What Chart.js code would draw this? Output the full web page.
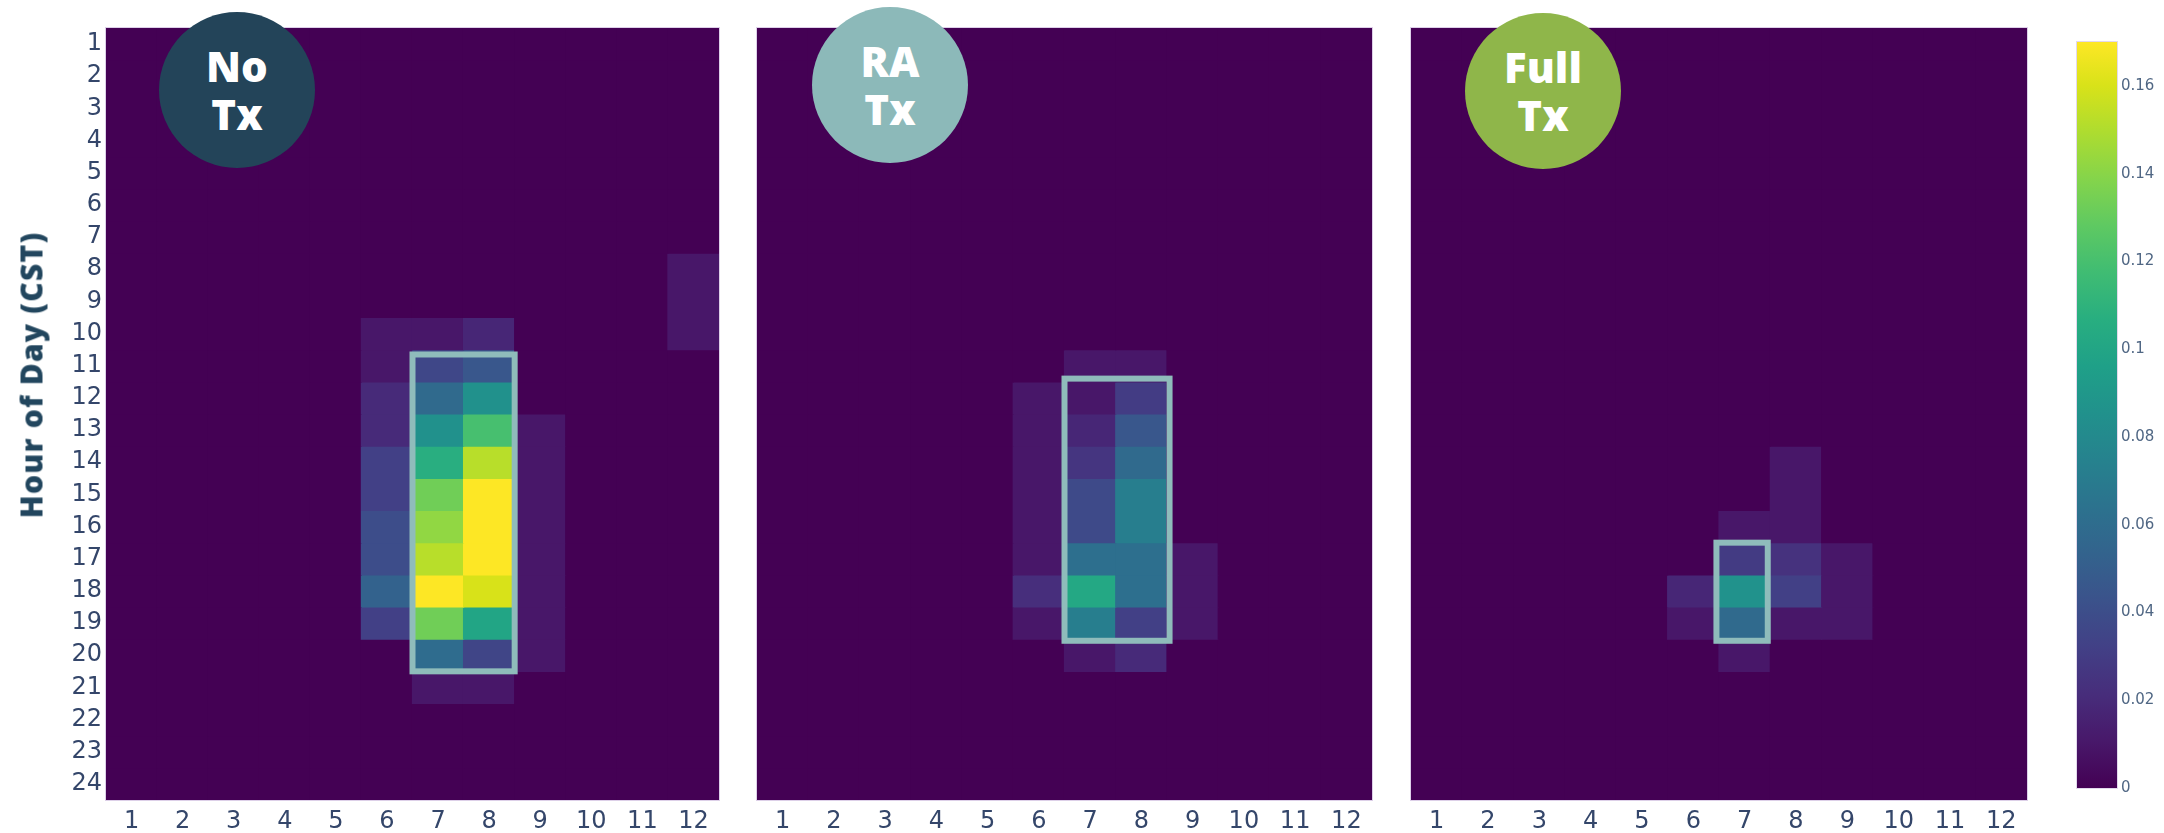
<!DOCTYPE html>
<html><head><meta charset="utf-8">
<script src="https://cdn.jsdelivr.net/npm/chart.js@4.4.1/dist/chart.umd.min.js"></script>
<style>
html,body{margin:0;padding:0;background:#fff;width:2164px;height:833px;overflow:hidden;position:relative}
canvas{position:absolute;top:0}
.badge{position:absolute;width:156px;height:156px;border-radius:50%;display:flex;flex-direction:column;align-items:center;justify-content:center;color:#fff;font-family:"Open Sans",Lato,sans-serif;font-weight:800;font-size:42px;line-height:48px;text-align:center}
#ytitle{position:absolute;left:31px;top:375px;transform:translate(-50%,-50%) rotate(-90deg);white-space:nowrap;font-family:"Open Sans",Lato,sans-serif;font-weight:800;font-size:30px;letter-spacing:1.2px;color:#22465e}
</style></head><body>
<canvas id="c1" width="730" height="833" style="left:0px;width:730px;height:833px"></canvas>
<canvas id="c2" width="645" height="833" style="left:740px;width:645px;height:833px"></canvas>
<canvas id="c3" width="645" height="833" style="left:1395px;width:645px;height:833px"></canvas>
<canvas id="cb" width="104" height="833" style="left:2060px;width:104px;height:833px"></canvas>
<div id="ytitle">Hour of Day (CST)</div>
<div class="badge" style="left:159px;top:12px;background:#234459"><span>No</span><span>Tx</span></div>
<div class="badge" style="left:812px;top:7px;background:#8cb9b9"><span>RA</span><span>Tx</span></div>
<div class="badge" style="left:1465px;top:13px;background:#8fb64a"><span>Full</span><span>Tx</span></div>
<script>
// ---- data ----
const months = ['1','2','3','4','5','6','7','8','9','10','11','12'];
const hourTicks = [1,2,3,4,5,6,7,8,9,10,11,12,13,14,15,16,17,18,19,20,21,22,23,24];
const cbTicks = [0,0.02,0.04,0.06,0.08,0.1,0.12,0.14,0.16];
const zMax = 0.17;

const noTx = [
 [0,0,0,0,0,0,0,0,0,0,0,0],
 [0,0,0,0,0,0,0,0,0,0,0,0],
 [0,0,0,0,0,0,0,0,0,0,0,0],
 [0,0,0,0,0,0,0,0,0,0,0,0],
 [0,0,0,0,0,0,0,0,0,0,0,0],
 [0,0,0,0,0,0,0,0,0,0,0,0],
 [0,0,0,0,0,0,0,0,0,0,0,0],
 [0,0,0,0,0,0,0,0,0,0,0,0.01],
 [0,0,0,0,0,0,0,0,0,0,0,0.01],
 [0,0,0,0,0,0.01,0.01,0.018,0,0,0,0.01],
 [0,0,0,0,0,0.01,0.036,0.046,0,0,0,0],
 [0,0,0,0,0,0.02,0.058,0.085,0,0,0,0],
 [0,0,0,0,0,0.02,0.085,0.12,0.01,0,0,0],
 [0,0,0,0,0,0.032,0.107,0.152,0.01,0,0,0],
 [0,0,0,0,0,0.032,0.133,0.17,0.01,0,0,0],
 [0,0,0,0,0,0.04,0.142,0.17,0.01,0,0,0],
 [0,0,0,0,0,0.04,0.152,0.17,0.01,0,0,0],
 [0,0,0,0,0,0.053,0.17,0.16,0.01,0,0,0],
 [0,0,0,0,0,0.032,0.133,0.1,0.01,0,0,0],
 [0,0,0,0,0,0,0.06,0.035,0.01,0,0,0],
 [0,0,0,0,0,0,0.01,0.01,0,0,0,0],
 [0,0,0,0,0,0,0,0,0,0,0,0],
 [0,0,0,0,0,0,0,0,0,0,0,0],
 [0,0,0,0,0,0,0,0,0,0,0,0]
];
const raTx = [
 [0,0,0,0,0,0,0,0,0,0,0,0],
 [0,0,0,0,0,0,0,0,0,0,0,0],
 [0,0,0,0,0,0,0,0,0,0,0,0],
 [0,0,0,0,0,0,0,0,0,0,0,0],
 [0,0,0,0,0,0,0,0,0,0,0,0],
 [0,0,0,0,0,0,0,0,0,0,0,0],
 [0,0,0,0,0,0,0,0,0,0,0,0],
 [0,0,0,0,0,0,0,0,0,0,0,0],
 [0,0,0,0,0,0,0,0,0,0,0,0],
 [0,0,0,0,0,0,0,0,0,0,0,0],
 [0,0,0,0,0,0,0.01,0.01,0,0,0,0],
 [0,0,0,0,0,0.01,0.01,0.03,0,0,0,0],
 [0,0,0,0,0,0.01,0.018,0.046,0,0,0,0],
 [0,0,0,0,0,0.01,0.026,0.058,0,0,0,0],
 [0,0,0,0,0,0.01,0.038,0.072,0,0,0,0],
 [0,0,0,0,0,0.01,0.038,0.072,0,0,0,0],
 [0,0,0,0,0,0.01,0.062,0.062,0.01,0,0,0],
 [0,0,0,0,0,0.022,0.102,0.062,0.01,0,0,0],
 [0,0,0,0,0,0.01,0.072,0.032,0.01,0,0,0],
 [0,0,0,0,0,0,0.01,0.02,0,0,0,0],
 [0,0,0,0,0,0,0,0,0,0,0,0],
 [0,0,0,0,0,0,0,0,0,0,0,0],
 [0,0,0,0,0,0,0,0,0,0,0,0],
 [0,0,0,0,0,0,0,0,0,0,0,0]
];
const fullTx = [
 [0,0,0,0,0,0,0,0,0,0,0,0],
 [0,0,0,0,0,0,0,0,0,0,0,0],
 [0,0,0,0,0,0,0,0,0,0,0,0],
 [0,0,0,0,0,0,0,0,0,0,0,0],
 [0,0,0,0,0,0,0,0,0,0,0,0],
 [0,0,0,0,0,0,0,0,0,0,0,0],
 [0,0,0,0,0,0,0,0,0,0,0,0],
 [0,0,0,0,0,0,0,0,0,0,0,0],
 [0,0,0,0,0,0,0,0,0,0,0,0],
 [0,0,0,0,0,0,0,0,0,0,0,0],
 [0,0,0,0,0,0,0,0,0,0,0,0],
 [0,0,0,0,0,0,0,0,0,0,0,0],
 [0,0,0,0,0,0,0,0,0,0,0,0],
 [0,0,0,0,0,0,0,0.01,0,0,0,0],
 [0,0,0,0,0,0,0,0.01,0,0,0,0],
 [0,0,0,0,0,0,0.01,0.01,0,0,0,0],
 [0,0,0,0,0,0,0.029,0.024,0.01,0,0,0],
 [0,0,0,0,0,0.018,0.086,0.032,0.01,0,0,0],
 [0,0,0,0,0,0.01,0.058,0.01,0.01,0,0,0],
 [0,0,0,0,0,0,0.01,0,0,0,0,0],
 [0,0,0,0,0,0,0,0,0,0,0,0],
 [0,0,0,0,0,0,0,0,0,0,0,0],
 [0,0,0,0,0,0,0,0,0,0,0,0],
 [0,0,0,0,0,0,0,0,0,0,0,0]
];
// highlight boxes [col0, col1, hour0, hour1]
const noTxBox = [6.5, 8.5, 10.65, 20.5];
const raTxBox = [6.5, 8.55, 11.4, 19.55];
const fullTxBox = [6.45, 7.45, 16.5, 19.55];

// plotly Viridis colorscale
const viridisStops = [
 [0,'#440154'],[0.0627,'#48186a'],[0.1255,'#472d7b'],[0.1882,'#424086'],[0.2510,'#3b528b'],
 [0.3137,'#33638d'],[0.3765,'#2c728e'],[0.4392,'#26828e'],[0.5020,'#21918c'],[0.5647,'#1fa088'],
 [0.6275,'#28ae80'],[0.6902,'#3fbc73'],[0.7529,'#5ec962'],[0.8157,'#84d44b'],[0.8784,'#addc30'],
 [0.9412,'#d8e219'],[1,'#fde725']
];
function hex(h){return [parseInt(h.slice(1,3),16),parseInt(h.slice(3,5),16),parseInt(h.slice(5,7),16)];}
function viridis(t){
  t=Math.max(0,Math.min(1,t));
  for(let i=1;i<viridisStops.length;i++){
    const [t1,c1]=viridisStops[i]; const [t0,c0]=viridisStops[i-1];
    if(t<=t1){const f=(t-t0)/(t1-t0);const a=hex(c0),b=hex(c1);
      return 'rgb('+a.map((v,k)=>Math.round(v+(b[k]-v)*f)).join(',')+')';}
  }
  return viridisStops[viridisStops.length-1][1];
}

const tickColor = '#34466a';
const frame = {
  id:'frame',
  beforeDatasetsDraw(chart, args, o){
    if(!o.fill) return;
    const {ctx, chartArea:a} = chart;
    ctx.save();ctx.fillStyle=o.fill;ctx.fillRect(a.left,a.top,a.width,a.height);ctx.restore();
  },
  afterDatasetsDraw(chart, args, o){
    const {ctx, chartArea:a, scales} = chart;
    ctx.save();
    if(o.border){ctx.strokeStyle=o.border;ctx.lineWidth=1;ctx.strokeRect(a.left-0.5,a.top-0.5,a.width+1,a.height+1);}
    if(o.box){
      const x=scales.x,y=scales.y;const [c0,c1,r0,r1]=o.box;
      const px0=x.getPixelForValue(c0-1),px1=x.getPixelForValue(c1-1);
      const py0=y.getPixelForValue(r0),py1=y.getPixelForValue(r1);
      ctx.strokeStyle=o.color;ctx.lineWidth=o.width;
      ctx.strokeRect(px0,py0,px1-px0,py1-py0);
    }
    ctx.restore();
  }
};
Chart.register(frame);

function heatmap(id, matrix, box, showY, pad){
  const datasets = matrix.map((row,i)=>({
    data: months.map(()=>[hourTicks[i]-0.5, hourTicks[i]+0.5]),
    backgroundColor: row.map(v=>viridis(v/zMax)),
    borderWidth:0, inflateAmount:0.6
  }));
  new Chart(document.getElementById(id),{
    type:'bar',
    data:{labels:months, datasets},
    options:{
      responsive:false, animation:false, events:[],
      layout:{padding:pad},
      datasets:{bar:{grouped:false,barPercentage:1,categoryPercentage:1}},
      plugins:{legend:{display:false},tooltip:{enabled:false},
        frame:{fill:viridisStops[0][1],border:'#ddd0e8',box,color:'#8fbcbb',width:6}},
      scales:{
        x:{grid:{display:false,drawTicks:false},border:{display:false},
           ticks:{font:{family:'DejaVu Sans',size:24},color:tickColor,padding:7,maxRotation:0,autoSkip:false},
           afterFit:s=>{s.height=33;}},
        y:{type:'linear',reverse:true,min:0.5,max:24.5,display:showY,
           grid:{display:false,drawTicks:false},border:{display:false},
           afterBuildTicks:s=>{s.ticks=hourTicks.map(v=>({value:v}));},
           ticks:{font:{family:'DejaVu Sans',size:24},color:tickColor,padding:4,autoSkip:false},
           afterFit:s=>{s.width=showY?106:0;}}
      }
    }
  });
}
heatmap('c1', noTx, noTxBox, true, {top:28,right:11,left:0,bottom:0});
heatmap('c2', raTx, raTxBox, false, {top:28,right:13,left:17,bottom:0});
heatmap('c3', fullTx, fullTxBox, false, {top:28,right:13,left:16,bottom:0});

new Chart(document.getElementById('cb'),{
  type:'bar',
  data:{labels:[''],datasets:[{data:[[0,zMax]],borderWidth:0,
    backgroundColor:(c)=>{const ch=c.chart;if(!ch.chartArea)return viridisStops[0][1];
      const y=ch.scales.y;const g=ch.ctx.createLinearGradient(0,y.getPixelForValue(0),0,y.getPixelForValue(zMax));
      viridisStops.forEach(([t,col])=>g.addColorStop(t,col));return g;}}]},
  options:{
    responsive:false,animation:false,events:[],
    layout:{padding:{top:42,bottom:45,left:17,right:0}},
    datasets:{bar:{barPercentage:1,categoryPercentage:1}},
    plugins:{legend:{display:false},tooltip:{enabled:false},frame:{border:'#e2d8ec'}},
    scales:{
      x:{display:false},
      y:{position:'right',min:0,max:zMax,grid:{display:false,drawTicks:false},border:{display:false},
         afterBuildTicks:s=>{s.ticks=cbTicks.map(v=>({value:v}));},
         ticks:{font:{family:'DejaVu Sans',size:15},color:'#506784',padding:4,autoSkip:false,
           callback:v=>String(Number(Number(v).toFixed(2)))},
         afterFit:s=>{s.width=47;}}
    }
  }
});
</script>
</body></html>
